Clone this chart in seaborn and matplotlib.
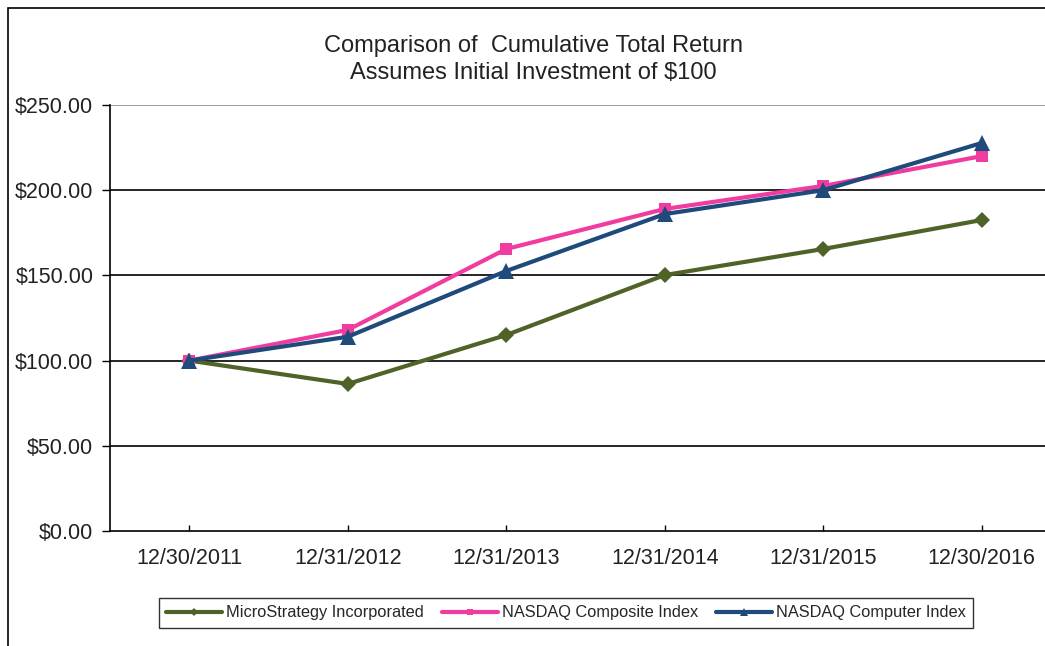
import matplotlib
matplotlib.use("Agg")
import matplotlib.pyplot as plt
import seaborn as sns
import pandas as pd
from matplotlib.patches import Rectangle

dates = ["12/30/2011", "12/31/2012", "12/31/2013", "12/31/2014", "12/31/2015", "12/30/2016"]
microstrategy = [100.0, 86.3, 115.0, 150.2, 165.5, 182.5]
nasdaq_composite = [100.0, 118.0, 165.5, 189.0, 202.5, 220.0]
nasdaq_computer = [100.0, 114.0, 152.6, 186.0, 200.0, 227.7]
series_names = ["MicroStrategy Incorporated", "NASDAQ Composite Index", "NASDAQ Computer Index"]
y_ticks = [0, 50, 100, 150, 200, 250]

sns.set_theme(style="white")
plt.rcParams["font.family"] = ["Liberation Sans", "DejaVu Sans"]

df = pd.DataFrame({
    "date": dates * 3,
    "value": microstrategy + nasdaq_composite + nasdaq_computer,
    "series": [series_names[0]] * 6 + [series_names[1]] * 6 + [series_names[2]] * 6,
})

colors = {series_names[0]: "#4F6228", series_names[1]: "#F03C9E", series_names[2]: "#1F4A7C"}
markers = {series_names[0]: "D", series_names[1]: "s", series_names[2]: "^"}
msizes = {series_names[0]: 8, series_names[1]: 9, series_names[2]: 11}

fig = plt.figure(figsize=(10.45, 6.46), dpi=100)
ax = fig.add_axes([110 / 1045, 115 / 646, 951 / 1045, 426 / 646])

for name in series_names:
    sub = df[df["series"] == name]
    sns.lineplot(data=sub, x="date", y="value", ax=ax, color=colors[name],
                 marker=markers[name], markersize=msizes[name], markeredgewidth=0,
                 linewidth=3.0, label=name, sort=False, zorder=3)

ax.set_xlim(-0.5, 5.5)
ax.set_ylim(0, 250)
ax.set_yticks(y_ticks)
ax.set_yticklabels([f"${v:.2f}" for v in y_ticks])
ax.set_xlabel("")
ax.set_ylabel("")
for v in y_ticks[1:]:
    ax.axhline(v, color="#8c8c8c" if v == 250 else "black", linewidth=1.2, zorder=1)

for s in ["top", "right"]:
    ax.spines[s].set_visible(False)
for s in ["left", "bottom"]:
    ax.spines[s].set_color("black")
    ax.spines[s].set_linewidth(1.2)

ax.tick_params(axis="y", which="major", direction="out", length=6, width=1, color="black",
               labelsize=15.5, labelcolor="#222222", pad=6, left=True)
ax.tick_params(axis="x", which="major", direction="in", length=4, width=1, color="black",
               labelsize=15.5, labelcolor="#222222", pad=12, bottom=True)

fig.text(533 / 1045, 1 - 46 / 646, "Comparison of  Cumulative Total Return", ha="center", va="center",
         fontsize=17, color="#222222")
fig.text(533 / 1045, 1 - 73 / 646, "Assumes Initial Investment of $100", ha="center", va="center",
         fontsize=17, color="#222222")

if ax.get_legend():
    ax.get_legend().remove()
h, l = ax.get_legend_handles_labels()
leg = fig.legend(h, l, loc="center", bbox_to_anchor=(566 / 1045, 1 - 613 / 646), ncol=3,
                 frameon=True, fancybox=False, edgecolor="black", fontsize=11.8,
                 handlelength=3.4, handletextpad=0.25, columnspacing=1.1,
                 borderpad=0.45, markerscale=0.55)
leg.get_frame().set_linewidth(1.0)

fig.patches.append(Rectangle((8 / 1045, -0.1), 1.2, (1 - 8 / 646) + 0.1, transform=fig.transFigure,
                             fill=False, edgecolor="black", linewidth=1.2, zorder=0))

fig.savefig("out.png", dpi=100)
